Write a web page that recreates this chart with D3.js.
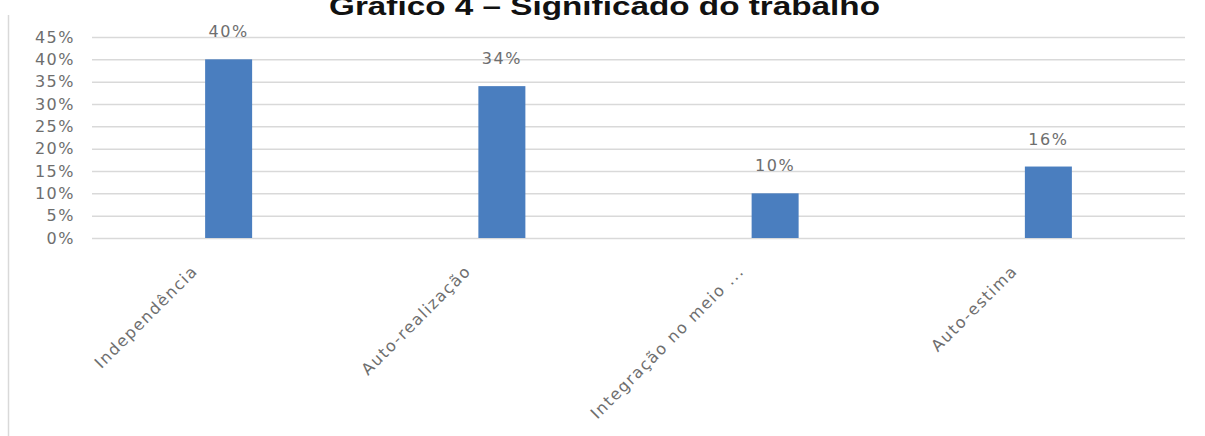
<!DOCTYPE html>
<html>
<head>
<meta charset="utf-8">
<script src="https://cdn.jsdelivr.net/npm/d3@7"></script>
<style>
  html, body { margin: 0; padding: 0; background: #ffffff; }
  svg { display: block; }
</style>
</head>
<body>
<svg id="chart" width="1205" height="436"></svg>
<script>
// Significado do trabalho: share of answers per category
const categories = ["Independência", "Auto-realização", "Integração no meio ...", "Auto-estima"];
const shares = [0.40, 0.34, 0.10, 0.16];
const yTicks = [0, 0.05, 0.10, 0.15, 0.20, 0.25, 0.30, 0.35, 0.40, 0.45];
const titleText = "Gráfico 4 – Significado do trabalho";

const svg = d3.select("#chart");
const W = 1205, H = 436;
const plot = { left: 92, right: 1185, top: 37, bottom: 238 };

const x = d3.scaleBand()
  .domain(categories)
  .range([plot.left, plot.right])
  .paddingInner(0.828)
  .paddingOuter(0.414);

const y = d3.scaleLinear()
  .domain([0, 0.45])
  .range([plot.bottom, plot.top]);

const pct = d3.format(".0%");
const gray = "#6e6e6e";

// outer frame edge on the left
svg.append("line")
  .attr("x1", 8.5).attr("x2", 8.5)
  .attr("y1", 15).attr("y2", H)
  .attr("stroke", "#d9d9d9").attr("stroke-width", 1.5);

// title
svg.append("text")
  .attr("transform", `translate(${W / 2 + 2},15) scale(1.28,1)`)
  .attr("text-anchor", "middle")
  .attr("font-family", "'Liberation Sans', Arial, sans-serif")
  .attr("font-weight", "bold")
  .attr("font-size", 26)
  .attr("fill", "#111")
  .text(titleText);

// horizontal gridlines
const grid = svg.append("g")
  .attr("transform", `translate(${plot.left},0)`)
  .call(d3.axisLeft(y).tickValues(yTicks).tickSize(-(plot.right - plot.left)).tickFormat(""));
grid.select(".domain").remove();
grid.selectAll(".tick line").attr("stroke", "#d9d9d9").attr("stroke-width", 1.5);

// y axis labels
const yAxis = svg.append("g")
  .attr("transform", `translate(${plot.left},0)`)
  .call(d3.axisLeft(y).tickValues(yTicks).tickSize(0).tickPadding(17).tickFormat(pct));
yAxis.select(".domain").remove();
yAxis.selectAll("text")
  .attr("font-family", "'DejaVu Sans', sans-serif")
  .attr("font-size", 16)
  .attr("letter-spacing", "1.5px")
  .attr("fill", gray);

// bars
svg.append("g").selectAll("rect")
  .data(categories)
  .join("rect")
  .attr("x", d => x(d))
  .attr("width", x.bandwidth())
  .attr("y", (d, i) => y(shares[i]))
  .attr("height", (d, i) => y(0) - y(shares[i]))
  .attr("fill", "#4a7ebf");

// value labels above bars
svg.append("g").selectAll("text")
  .data(categories)
  .join("text")
  .attr("x", d => x(d) + x.bandwidth() / 2)
  .attr("y", (d, i) => y(shares[i]) - 22)
  .attr("text-anchor", "middle")
  .attr("font-family", "'DejaVu Sans', sans-serif")
  .attr("font-size", 16)
  .attr("letter-spacing", "1.5px")
  .attr("fill", gray)
  .text((d, i) => pct(shares[i]));

// category labels, rotated
const xAxis = svg.append("g")
  .attr("transform", `translate(0,${plot.bottom})`)
  .call(d3.axisBottom(x).tickSize(0));
xAxis.select(".domain").remove();
xAxis.selectAll("text")
  .attr("x", 0).attr("y", 0).attr("dy", 0)
  .attr("text-anchor", "end")
  .attr("transform", "translate(-30,34) rotate(-45)")
  .attr("font-family", "'DejaVu Sans', sans-serif")
  .attr("font-size", 16)
  .attr("letter-spacing", "1.5px")
  .attr("fill", gray);
</script>
</body>
</html>
